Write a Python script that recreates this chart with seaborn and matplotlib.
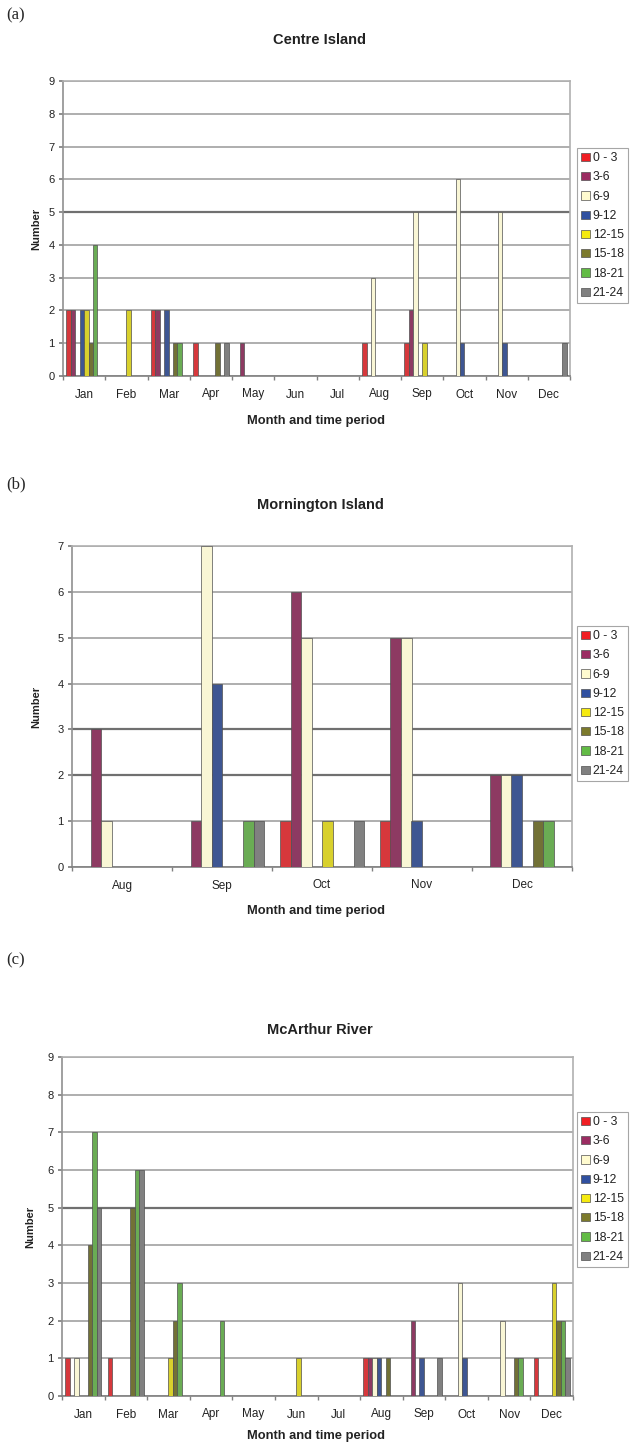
"""Seasonal counts by month and 3-hour time period, three sites."""

import matplotlib.pyplot as plt
import numpy as np
import pandas as pd
import seaborn as sns

sns.set_theme(style="white")
plt.rcParams["font.family"] = ["Liberation Sans", "DejaVu Sans"]

periods = ["0 - 3", "3-6", "6-9", "9-12", "12-15", "15-18", "18-21", "21-24"]
colors = ["#F01E23", "#9B2C62", "#FFFBCF", "#3050A0",
          "#F5EA10", "#7C7A2C", "#62BB45", "#808080"]

months_all = ["Jan", "Feb", "Mar", "Apr", "May", "Jun",
              "Jul", "Aug", "Sep", "Oct", "Nov", "Dec"]
months_morn = ["Aug", "Sep", "Oct", "Nov", "Dec"]

# rows = time periods, columns = months
centre_counts = [
    [2, 0, 2, 1, 0, 0, 0, 1, 1, 0, 0, 0],
    [2, 0, 2, 0, 1, 0, 0, 0, 2, 0, 0, 0],
    [0, 0, 0, 0, 0, 0, 0, 3, 5, 6, 5, 0],
    [2, 0, 2, 0, 0, 0, 0, 0, 0, 1, 1, 0],
    [2, 2, 0, 0, 0, 0, 0, 0, 1, 0, 0, 0],
    [1, 0, 1, 1, 0, 0, 0, 0, 0, 0, 0, 0],
    [4, 0, 1, 0, 0, 0, 0, 0, 0, 0, 0, 0],
    [0, 0, 0, 1, 0, 0, 0, 0, 0, 0, 0, 1],
]
morn_counts = [
    [0, 0, 1, 1, 0],
    [3, 1, 6, 5, 2],
    [1, 7, 5, 5, 2],
    [0, 4, 0, 1, 2],
    [0, 0, 1, 0, 0],
    [0, 0, 0, 0, 1],
    [0, 1, 0, 0, 1],
    [0, 1, 1, 0, 0],
]
mcarthur_counts = [
    [1, 1, 0, 0, 0, 0, 0, 1, 0, 0, 0, 1],
    [0, 0, 0, 0, 0, 0, 0, 1, 2, 0, 0, 0],
    [1, 0, 0, 0, 0, 0, 0, 1, 0, 3, 2, 0],
    [0, 0, 0, 0, 0, 0, 0, 1, 1, 1, 0, 0],
    [0, 0, 1, 0, 0, 1, 0, 0, 0, 0, 0, 3],
    [4, 5, 2, 0, 0, 0, 0, 1, 0, 0, 1, 2],
    [7, 6, 3, 2, 0, 0, 0, 0, 0, 0, 1, 2],
    [5, 6, 0, 0, 0, 0, 0, 0, 1, 0, 0, 1],
]

W, H = 638, 1444
fig = plt.figure(figsize=(W / 100, H / 100), dpi=100)
TXT = "#222222"


def px_axes(left, top, right, bottom):
    return fig.add_axes([left / W, 1 - bottom / H, (right - left) / W, (bottom - top) / H])


def panel(ax, months, counts, ymax, dark, title, tag, tag_y, title_y, xlab_y, ylab_x, leg_top):
    df = pd.DataFrame(
        [(m, p, counts[i][j]) for i, p in enumerate(periods) for j, m in enumerate(months)],
        columns=["month", "period", "n"],
    )
    sns.barplot(data=df, x="month", y="n", hue="period", order=months, hue_order=periods,
                palette=colors, width=0.84, edgecolor="#505050", linewidth=0.5,
                ax=ax, legend=False, zorder=3)
    ax.set_ylim(0, ymax)
    ax.set_xlim(-0.5, len(months) - 0.5)
    ax.set_yticks(range(ymax + 1))
    ax.yaxis.grid(True, color="#a8a8a8", lw=1.3, zorder=0)
    for v in dark:
        ax.axhline(v, color="#707070", lw=1.6, zorder=1)
    ax.set_xticks(np.arange(len(months)))
    ax.set_xticks(np.arange(len(months) + 1) - 0.5, minor=True)
    ax.tick_params(axis="x", which="major", length=0, labelsize=8.5, colors=TXT, pad=9)
    ax.tick_params(axis="x", which="minor", length=3, color="#808080", direction="out", bottom=True)
    ax.tick_params(axis="y", length=3, color="#808080", direction="out", left=True,
                   labelsize=8, colors=TXT, pad=3)
    ax.set_xlabel("")
    ax.set_ylabel("")
    for s in ax.spines.values():
        s.set_color("#b0b0b0")
        s.set_linewidth(1.2)
    ax.spines["left"].set_color("#909090")
    ax.spines["bottom"].set_color("#808080")

    fig.text(6 / W, 1 - tag_y / H, tag, family="Liberation Serif", fontsize=12,
             va="center", ha="left")
    fig.text(320 / W, 1 - title_y / H, title, fontsize=10.5, fontweight="bold",
             ha="center", va="center", color=TXT)
    fig.text(316 / W, 1 - xlab_y / H, "Month and time period", fontsize=9.3,
             fontweight="bold", ha="center", va="center", color=TXT)
    pos = ax.get_position()
    fig.text(ylab_x / W, pos.y0 + pos.height / 2, "Number", fontsize=8, fontweight="bold",
             rotation=90, ha="center", va="center", color=TXT)

    handles = [plt.Rectangle((0, 0), 1, 1, facecolor=c, edgecolor="#505050", lw=0.5) for c in colors]
    leg = fig.legend(handles, periods, loc="upper left",
                     bbox_to_anchor=(577 / W, 1 - leg_top / H), fontsize=8.7,
                     frameon=True, fancybox=False, handlelength=0.7, handleheight=0.7,
                     handletextpad=0.25, labelspacing=0.6, borderpad=0.35,
                     borderaxespad=0, labelcolor=TXT)
    leg.get_frame().set_edgecolor("#909090")
    leg.get_frame().set_linewidth(0.8)


ax_a = px_axes(63, 81, 570, 376)
panel(ax_a, months_all, centre_counts, 9, [5], "Centre Island", "(a)",
      15, 40, 421, 36, 148)

ax_b = px_axes(72, 546, 572, 867)
panel(ax_b, months_morn, morn_counts, 7, [2, 3], "Mornington Island", "(b)",
      484, 505, 911, 36, 626)

ax_c = px_axes(62, 1057, 573, 1396)
panel(ax_c, months_all, mcarthur_counts, 9, [5], "McArthur River", "(c)",
      960, 1030, 1436, 30, 1112)

fig.savefig("out.png", dpi=100)
